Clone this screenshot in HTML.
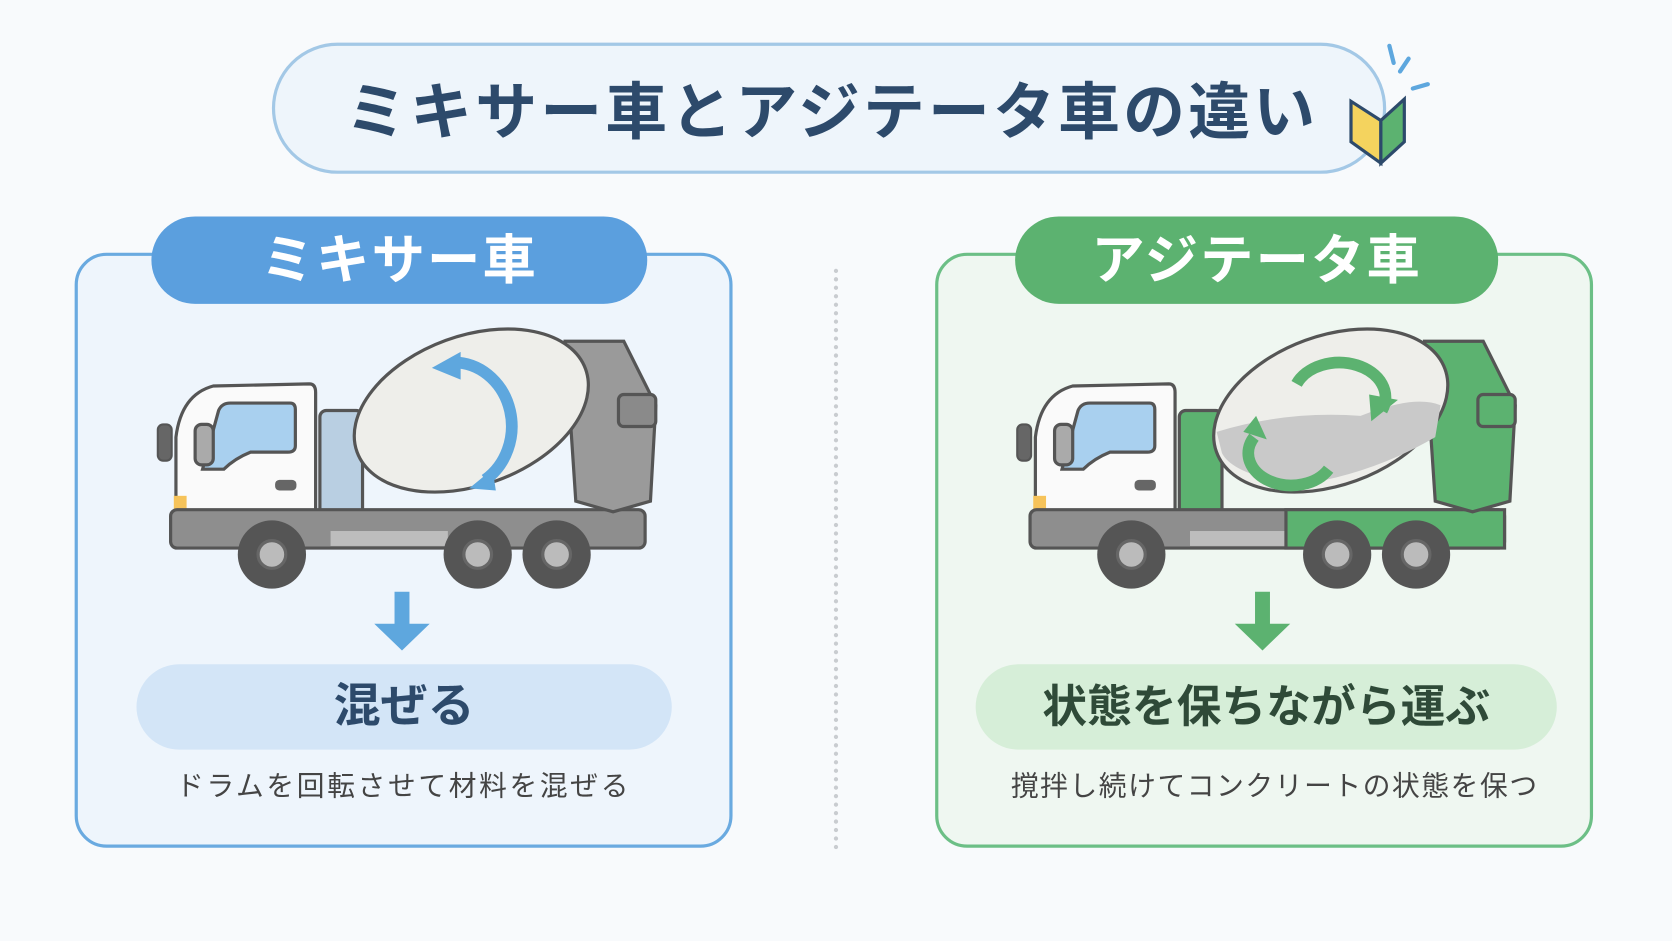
<!DOCTYPE html>
<html><head><meta charset="utf-8"><style>
html,body{margin:0;padding:0;width:1672px;height:941px;overflow:hidden;background:#f8fafc;}
#w{position:absolute;left:0;top:0;width:1568px;height:882px;transform:scale(1.0663);transform-origin:0 0;font-family:"Liberation Sans","Noto Sans CJK JP",sans-serif;}
.abs{position:absolute;box-sizing:border-box;}
.t{font-weight:bold;text-align:center;white-space:nowrap;}
</style></head><body><div id="w">
<div class="abs" style="left:255px;top:40px;width:1045px;height:123px;border:3px solid #a3c8e6;border-radius:62px;background:#eef5fb;"></div>
<div class="abs t" style="left:290px;top:68px;width:980px;font-size:58px;line-height:76px;color:#2d4a6b;letter-spacing:3px;">ミキサー車とアジテータ車の違い</div>
<svg class="abs" style="left:1255px;top:35px" width="100" height="125">
<path d="M12 60 L40 78 L40 118 L12 98 Z" fill="#f4d35e" stroke="#2d4a6b" stroke-width="3"/>
<path d="M40 78 L62 58 L62 98 L40 118 Z" fill="#5cb270" stroke="#2d4a6b" stroke-width="3"/>
<path d="M48 8 L52 24 M66 20 L58 32 M84 44 L70 48" stroke="#5ea7de" stroke-width="4" stroke-linecap="round"/>
</svg>
<div class="abs" style="left:70px;top:237px;width:617px;height:558px;border:3px solid #6aaae0;border-radius:30px;background:#eef5fc;"></div>
<div class="abs t" style="left:142px;top:203px;width:465px;height:82px;border-radius:41px;background:#5b9fde;color:#fff;font-size:50px;line-height:82px;letter-spacing:2px;">ミキサー車</div>
<div class="abs" style="left:877px;top:237px;width:617px;height:558px;border:3px solid #6cbf86;border-radius:30px;background:#eff7f1;"></div>
<div class="abs t" style="left:952px;top:203px;width:453px;height:82px;border-radius:41px;background:#5cb270;color:#fff;font-size:50px;line-height:82px;letter-spacing:2px;">アジテータ車</div>
<div class="abs" style="left:782px;top:252px;width:0;height:545px;border-left:4px dotted #c9ccd0;"></div>
<svg class="abs" style="left:0;top:0" width="1568" height="882">
<defs>
<g id="cab">
 <path d="M165 500 L165 410 Q170 370 200 362 L290 360 Q296 360 296 368 L296 500 Z" fill="#fafafa" stroke="#555" stroke-width="3"/>
 <path d="M190 440 L205 385 Q208 378 216 378 L272 378 Q277 378 277 384 L277 418 Q277 424 270 424 L235 424 Q220 430 210 440 Z" fill="#a9d0ef" stroke="#555" stroke-width="3"/>
 <rect x="183" y="398" width="17" height="38" rx="6" fill="#aaa" stroke="#555" stroke-width="3"/>
 <rect x="148" y="398" width="13" height="34" rx="5" fill="#666" stroke="#555" stroke-width="2"/>
 <rect x="163" y="465" width="12" height="26" fill="#f6c35a"/>
 <rect x="258" y="450" width="20" height="10" rx="4" fill="#666"/>
</g>
<g id="wheels">
 <circle cx="255" cy="520" r="32" fill="#555"/><circle cx="255" cy="520" r="13" fill="#bbb" stroke="#666" stroke-width="3"/>
 <circle cx="448" cy="520" r="32" fill="#555"/><circle cx="448" cy="520" r="13" fill="#bbb" stroke="#666" stroke-width="3"/>
 <circle cx="522" cy="520" r="32" fill="#555"/><circle cx="522" cy="520" r="13" fill="#bbb" stroke="#666" stroke-width="3"/>
</g>
</defs>
<!-- left truck -->
<rect x="300" y="385" width="40" height="100" rx="6" fill="#b9cfe2" stroke="#555" stroke-width="3"/>
<use href="#cab"/>
<rect x="160" y="478" width="445" height="36" rx="6" fill="#8e8e8e" stroke="#555" stroke-width="3"/>
<rect x="310" y="498" width="110" height="14" fill="#bdbdbd"/>
<use href="#wheels"/>
<path d="M530 320 L585 320 L615 380 L610 470 L575 480 L540 470 Z" fill="#9a9a9a" stroke="#555" stroke-width="3"/>
<rect x="580" y="370" width="35" height="30" rx="5" fill="#8a8a8a" stroke="#555" stroke-width="3"/>
<ellipse cx="442" cy="385" rx="114" ry="70" transform="rotate(-20 442 385)" fill="#eeeeea" stroke="#555" stroke-width="3"/>
<path d="M430 340 A55 60 0 0 1 455 450" fill="none" stroke="#5ea7de" stroke-width="11"/>
<path d="M405 345 L432 330 L432 356 Z M440 458 L462 440 L465 460 Z" fill="#5ea7de"/>
<!-- right truck -->
<g transform="translate(806 0)">
<rect x="300" y="385" width="40" height="100" rx="6" fill="#5cb270" stroke="#555" stroke-width="3"/>
<use href="#cab"/>
<rect x="160" y="478" width="445" height="36" rx="6" fill="#8e8e8e" stroke="#555" stroke-width="3"/>
<rect x="310" y="498" width="90" height="14" fill="#bdbdbd"/>
<path d="M400 478 L605 478 L605 514 L400 514 Z" fill="#5cb270" stroke="#555" stroke-width="3"/>
<use href="#wheels"/>
<path d="M530 320 L585 320 L615 380 L610 470 L575 480 L540 470 Z" fill="#5cb270" stroke="#555" stroke-width="3"/>
<rect x="580" y="370" width="35" height="30" rx="5" fill="#5cb270" stroke="#555" stroke-width="3"/>
<ellipse cx="442" cy="385" rx="114" ry="70" transform="rotate(-20 442 385)" fill="#eeeeea" stroke="#555" stroke-width="3"/>
<path d="M335 405 Q400 385 470 390 Q520 370 545 380 L540 410 Q480 445 410 455 Q350 445 340 425 Z" fill="#c9c9c9"/>
<path d="M410 360 A40 30 0 0 1 490 385" fill="none" stroke="#5cb270" stroke-width="11"/>
<path d="M370 410 A40 30 0 0 0 440 440" fill="none" stroke="#5cb270" stroke-width="11"/>
<path d="M480 395 L505 375 L478 370 Z M360 405 L372 390 L382 412 Z" fill="#5cb270"/>
</g>
<path d="M370 555 L384 555 L384 585 L403 585 L377 610 L351 585 L370 585 Z" fill="#5ea7de"/>
<path d="M1177 555 L1191 555 L1191 585 L1210 585 L1184 610 L1158 585 L1177 585 Z" fill="#5cb270"/>
</svg>
<div class="abs t" style="left:128px;top:623px;width:502px;height:80px;border-radius:40px;background:#d3e5f7;color:#2d4a6b;font-size:44px;line-height:80px;">混ぜる</div>
<div class="abs t" style="left:915px;top:623px;width:545px;height:80px;border-radius:40px;background:#d6eed8;color:#2f4a38;font-size:42px;line-height:80px;">状態を保ちながら運ぶ</div>
<div class="abs t" style="left:60px;top:720px;width:637px;font-size:26px;line-height:34px;color:#444;font-weight:normal;letter-spacing:2.5px;">ドラムを回転させて材料を混ぜる</div>
<div class="abs t" style="left:877px;top:720px;width:637px;font-size:26px;line-height:34px;color:#444;font-weight:normal;letter-spacing:1.5px;">撹拌し続けてコンクリートの状態を保つ</div>
</div></body></html>
